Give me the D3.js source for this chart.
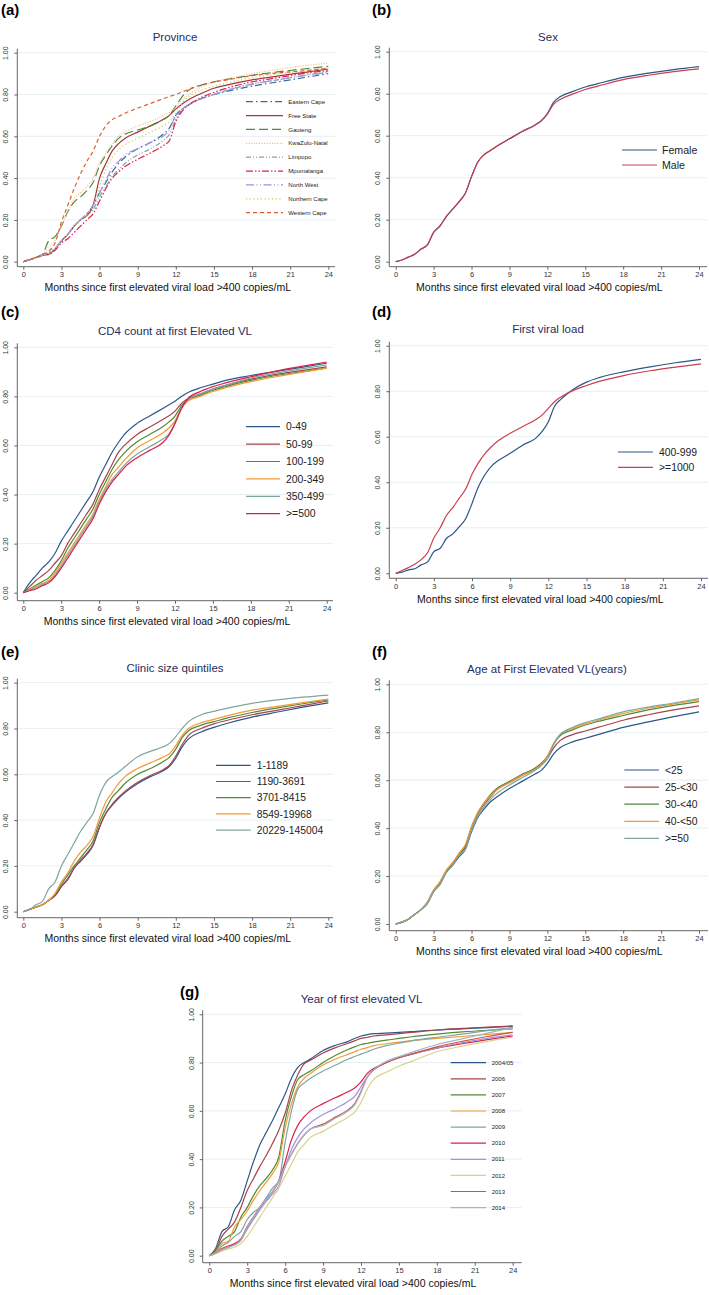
<!DOCTYPE html>
<html>
<head>
<meta charset="utf-8">
<script src="https://cdn.jsdelivr.net/npm/d3@7"></script>
<style>
  html, body { margin: 0; padding: 0; background: #fff; }
  svg { display: block; font-family: "Liberation Sans", Arial, sans-serif; }
</style>
</head>
<body>
<svg id="chart" width="709" height="1295"></svg>
<script>
// ---------------- DATA ----------------
const months = [0,0.5,1,1.5,2,2.5,3,3.5,4,4.5,5,5.5,6,6.5,7,7.5,8,9,10,11,11.5,12,12.5,13,14,15,16,18,20,22,24];
const xTicks = [0,3,6,9,12,15,18,21,24];
const yTicks = [0,0.2,0.4,0.6,0.8,1.0];
const xAxisTitle = "Months since first elevated viral load >400 copies/mL";

// (a) Province
const provinceNames = ["Eastern Cape","Free State","Gauteng","KwaZulu-Natal","Limpopo","Mpumalanga","North West","Northern Cape","Western Cape"];
const provEasternCape  = [0,0.01,0.02,0.03,0.04,0.06,0.1,0.13,0.17,0.2,0.23,0.27,0.33,0.38,0.43,0.47,0.5,0.54,0.57,0.61,0.64,0.7,0.73,0.75,0.78,0.8,0.815,0.84,0.86,0.88,0.9];
const provFreeState    = [0,0.01,0.02,0.03,0.035,0.06,0.1,0.13,0.17,0.2,0.22,0.27,0.4,0.47,0.53,0.565,0.59,0.62,0.65,0.68,0.7,0.73,0.755,0.775,0.805,0.83,0.845,0.87,0.888,0.905,0.922];
const provGauteng      = [0,0.01,0.02,0.035,0.1,0.12,0.17,0.24,0.285,0.31,0.34,0.38,0.46,0.51,0.555,0.59,0.61,0.63,0.65,0.68,0.7,0.745,0.79,0.82,0.845,0.86,0.872,0.892,0.908,0.922,0.935];
const provKwaZuluNatal = [0,0.01,0.02,0.035,0.07,0.1,0.17,0.24,0.3,0.33,0.36,0.4,0.47,0.52,0.56,0.6,0.62,0.65,0.67,0.7,0.715,0.74,0.775,0.8,0.835,0.86,0.875,0.9,0.92,0.937,0.95];
const provLimpopo      = [0,0.01,0.02,0.03,0.04,0.06,0.1,0.13,0.17,0.2,0.22,0.25,0.31,0.36,0.41,0.44,0.47,0.51,0.54,0.58,0.61,0.68,0.73,0.75,0.78,0.8,0.82,0.85,0.87,0.89,0.91];
const provMpumalanga   = [0,0.01,0.02,0.03,0.035,0.055,0.09,0.11,0.14,0.17,0.2,0.23,0.29,0.35,0.4,0.43,0.455,0.49,0.52,0.555,0.58,0.67,0.72,0.75,0.785,0.81,0.83,0.86,0.88,0.9,0.915];
const provNorthWest    = [0,0.01,0.02,0.03,0.045,0.065,0.1,0.13,0.17,0.2,0.23,0.27,0.33,0.39,0.45,0.48,0.51,0.54,0.57,0.6,0.63,0.7,0.73,0.75,0.78,0.8,0.82,0.85,0.87,0.89,0.905];
const provNorthernCape = [0,0.01,0.02,0.03,0.04,0.06,0.1,0.13,0.17,0.2,0.23,0.27,0.36,0.44,0.5,0.535,0.56,0.59,0.62,0.65,0.67,0.71,0.76,0.79,0.82,0.84,0.855,0.88,0.898,0.913,0.928];
const provWesternCape  = [0,0.01,0.02,0.035,0.05,0.09,0.19,0.27,0.35,0.42,0.48,0.53,0.6,0.65,0.68,0.695,0.71,0.735,0.757,0.78,0.79,0.8,0.812,0.825,0.845,0.86,0.87,0.89,0.903,0.913,0.925];

// (b) Sex
const sexNames = ["Female","Male"];
const sexFemale = [0,0.008,0.022,0.035,0.06,0.08,0.14,0.17,0.215,0.25,0.285,0.325,0.405,0.475,0.51,0.53,0.55,0.585,0.62,0.65,0.67,0.705,0.76,0.785,0.81,0.832,0.848,0.878,0.898,0.915,0.929];
const sexMale   = [0,0.008,0.022,0.035,0.06,0.08,0.14,0.17,0.215,0.25,0.285,0.325,0.405,0.475,0.51,0.53,0.55,0.585,0.62,0.65,0.67,0.703,0.75,0.772,0.798,0.82,0.836,0.867,0.888,0.905,0.918];

// (c) CD4 count
const cd4Names = ["0-49","50-99","100-199","200-349","350-499",">=500"];
const cd4_0_49    = [0,0.04,0.07,0.1,0.125,0.16,0.21,0.25,0.29,0.33,0.37,0.41,0.47,0.52,0.57,0.61,0.645,0.69,0.72,0.75,0.765,0.78,0.8,0.815,0.835,0.85,0.865,0.885,0.902,0.918,0.935];
const cd4_50_99   = [0,0.025,0.05,0.07,0.09,0.12,0.15,0.2,0.24,0.28,0.32,0.36,0.42,0.47,0.52,0.57,0.6,0.645,0.675,0.705,0.72,0.74,0.77,0.79,0.81,0.83,0.845,0.87,0.89,0.905,0.92];
const cd4_100_199 = [0,0.015,0.03,0.045,0.06,0.09,0.13,0.18,0.22,0.26,0.3,0.34,0.4,0.45,0.5,0.54,0.57,0.615,0.645,0.675,0.695,0.72,0.76,0.785,0.805,0.825,0.84,0.865,0.885,0.9,0.915];
const cd4_200_349 = [0,0.012,0.025,0.038,0.05,0.08,0.12,0.16,0.2,0.24,0.28,0.32,0.38,0.43,0.48,0.51,0.54,0.59,0.62,0.65,0.67,0.7,0.75,0.78,0.8,0.82,0.835,0.86,0.88,0.898,0.915];
const cd4_350_499 = [0,0.01,0.02,0.033,0.045,0.07,0.11,0.15,0.19,0.23,0.27,0.31,0.37,0.42,0.46,0.49,0.52,0.565,0.595,0.625,0.645,0.69,0.75,0.785,0.81,0.83,0.845,0.875,0.895,0.912,0.928];
const cd4_500plus = [0,0.008,0.015,0.028,0.04,0.065,0.1,0.14,0.18,0.22,0.26,0.3,0.36,0.41,0.45,0.48,0.51,0.55,0.58,0.61,0.64,0.69,0.75,0.79,0.82,0.84,0.855,0.88,0.903,0.922,0.94];

// (d) First viral load
const fvlNames = ["400-999",">=1000"];
const fvl400_999  = [0,0.005,0.015,0.02,0.037,0.05,0.095,0.11,0.154,0.173,0.205,0.24,0.307,0.38,0.432,0.469,0.493,0.527,0.564,0.593,0.622,0.666,0.735,0.765,0.81,0.84,0.86,0.886,0.907,0.925,0.94];
const fvl1000plus = [0,0.012,0.025,0.04,0.06,0.09,0.155,0.2,0.255,0.29,0.33,0.37,0.435,0.485,0.525,0.555,0.58,0.615,0.645,0.675,0.695,0.725,0.755,0.775,0.805,0.825,0.843,0.87,0.89,0.906,0.92];

// (e) Clinic size quintiles
const clinicNames = ["1-1189","1190-3691","3701-8415","8549-19968","20229-145004"];
const clinicQ1 = [0,0.01,0.02,0.03,0.05,0.07,0.11,0.14,0.19,0.22,0.25,0.29,0.37,0.43,0.465,0.495,0.52,0.56,0.59,0.615,0.635,0.67,0.72,0.755,0.785,0.805,0.822,0.85,0.872,0.893,0.912];
const clinicQ2 = [0,0.01,0.02,0.03,0.05,0.07,0.11,0.145,0.19,0.225,0.255,0.295,0.37,0.43,0.47,0.5,0.525,0.565,0.595,0.62,0.64,0.68,0.73,0.77,0.8,0.82,0.835,0.86,0.88,0.9,0.92];
const clinicQ3 = [0,0.01,0.02,0.03,0.05,0.075,0.12,0.16,0.2,0.235,0.27,0.31,0.39,0.45,0.5,0.53,0.56,0.6,0.625,0.655,0.675,0.71,0.76,0.79,0.815,0.83,0.845,0.87,0.89,0.908,0.925];
const clinicQ4 = [0,0.01,0.02,0.03,0.05,0.08,0.13,0.17,0.22,0.26,0.29,0.33,0.41,0.48,0.52,0.56,0.59,0.625,0.65,0.675,0.69,0.725,0.77,0.8,0.825,0.84,0.855,0.88,0.897,0.913,0.928];
const clinicQ5 = [0,0.01,0.03,0.045,0.1,0.13,0.2,0.25,0.3,0.35,0.39,0.43,0.51,0.565,0.59,0.61,0.633,0.677,0.7,0.72,0.735,0.765,0.8,0.83,0.86,0.875,0.888,0.91,0.925,0.937,0.946];

// (f) Age at first elevated VL
const ageNames = ["<25","25-<30","30-<40","40-<50",">=50"];
const ageUnder25 = [0,0.008,0.02,0.04,0.06,0.085,0.135,0.165,0.215,0.245,0.28,0.31,0.385,0.445,0.48,0.51,0.53,0.565,0.595,0.625,0.64,0.67,0.71,0.735,0.76,0.775,0.79,0.82,0.843,0.865,0.885];
const age25_30   = [0,0.008,0.02,0.04,0.06,0.088,0.14,0.17,0.22,0.25,0.29,0.32,0.4,0.46,0.5,0.53,0.56,0.59,0.62,0.645,0.665,0.69,0.735,0.765,0.79,0.805,0.82,0.85,0.873,0.893,0.91];
const age30_40   = [0,0.008,0.02,0.04,0.06,0.09,0.14,0.175,0.22,0.255,0.29,0.325,0.405,0.465,0.505,0.54,0.565,0.595,0.625,0.65,0.67,0.7,0.75,0.785,0.81,0.83,0.845,0.87,0.893,0.912,0.928];
const age40_50   = [0,0.008,0.02,0.04,0.06,0.09,0.14,0.175,0.225,0.255,0.295,0.33,0.405,0.465,0.505,0.535,0.56,0.59,0.62,0.645,0.665,0.7,0.755,0.79,0.815,0.835,0.85,0.878,0.9,0.918,0.935];
const age50plus  = [0,0.008,0.02,0.04,0.06,0.085,0.135,0.165,0.215,0.245,0.285,0.31,0.39,0.45,0.49,0.52,0.545,0.58,0.61,0.64,0.66,0.69,0.75,0.79,0.82,0.84,0.855,0.885,0.905,0.922,0.94];

// (g) Year of first elevated VL
const yearNames = ["2004/05","2006","2007","2008","2009","2010","2011","2012","2013","2014"];
const year2004_05 = [0,0.03,0.1,0.12,0.19,0.23,0.31,0.39,0.46,0.51,0.56,0.615,0.67,0.735,0.78,0.8,0.815,0.85,0.872,0.888,0.9,0.91,0.916,0.92,0.922,0.925,0.928,0.935,0.94,0.945,0.95];
const year2006 = [0,0.02,0.08,0.11,0.14,0.2,0.27,0.32,0.37,0.415,0.465,0.52,0.59,0.685,0.75,0.795,0.81,0.84,0.862,0.88,0.89,0.9,0.905,0.91,0.915,0.92,0.925,0.935,0.942,0.947,0.952];
const year2007 = [0,0.02,0.06,0.08,0.1,0.16,0.2,0.25,0.29,0.32,0.355,0.41,0.56,0.66,0.73,0.75,0.765,0.8,0.83,0.855,0.865,0.875,0.88,0.885,0.893,0.9,0.907,0.918,0.927,0.934,0.94];
const year2008 = [0,0.015,0.05,0.06,0.12,0.15,0.185,0.23,0.27,0.305,0.34,0.39,0.53,0.63,0.7,0.735,0.755,0.79,0.815,0.835,0.845,0.855,0.862,0.87,0.878,0.885,0.891,0.9,0.908,0.917,0.925];
const year2009 = [0,0.012,0.04,0.055,0.08,0.1,0.15,0.18,0.2,0.24,0.28,0.31,0.47,0.6,0.69,0.715,0.735,0.765,0.79,0.815,0.825,0.835,0.845,0.855,0.87,0.88,0.89,0.905,0.918,0.932,0.945];
const year2010 = [0,0.01,0.03,0.04,0.05,0.07,0.12,0.16,0.2,0.235,0.265,0.31,0.39,0.48,0.54,0.575,0.6,0.63,0.655,0.68,0.695,0.72,0.755,0.775,0.8,0.82,0.835,0.86,0.878,0.895,0.91];
const year2011 = [0,0.01,0.025,0.035,0.045,0.065,0.11,0.15,0.19,0.225,0.255,0.29,0.37,0.44,0.49,0.525,0.55,0.585,0.61,0.64,0.66,0.7,0.74,0.77,0.8,0.82,0.835,0.86,0.882,0.9,0.915];
const year2012 = [0,0.008,0.02,0.028,0.035,0.05,0.08,0.12,0.16,0.2,0.24,0.28,0.33,0.38,0.43,0.46,0.49,0.515,0.545,0.575,0.595,0.635,0.69,0.73,0.76,0.785,0.805,0.845,0.868,0.888,0.905];
const year2013 = [0,0.01,0.025,0.035,0.045,0.065,0.12,0.16,0.2,0.235,0.265,0.31,0.37,0.42,0.465,0.5,0.525,0.545,0.575,0.605,0.63,0.68,0.74,0.77,0.8,0.82,0.835,0.865,0.888,0.908,0.925];
const year2014 = [0,0.01,0.025,0.035,0.045,0.065,0.12,0.16,0.2,0.235,0.265,0.31,0.37,0.42,0.465,0.5,0.525,0.54,0.57,0.6,0.625,0.675,0.74,0.77,0.805,0.825,0.842,0.875,0.898,0.922,0.945];

// ---------------- STYLE ----------------
const provinceColors = ["#3b6aa0","#a8343f","#4f8a3a","#f2b487","#7fa6a0","#d92050","#9c90e0","#c9c96a","#d9602c"];
const provinceDashes = ["7,3,1.5,3","", "9,4","1,1.6","5,2,1,2,1,2","7,2,1.5,2,1.5,2","8,2.5,1,2.5,1,2.5","1.2,2.5","4,3"];
const twoColors = ["#2d5789","#c8404c"];
const sixColors = ["#2d5789","#a8434d","#4f8a3a","#f39a35","#7fa6a0","#d9204c"];
const fiveColors = ["#2d5789","#a8434d","#4f8a3a","#f39a35","#7fa6a0"];
const yearColors = ["#2d5789","#a8434d","#4f8a3a","#f39a35","#7fa6a0","#d9204c","#a390e0","#d8d38a","#c8583a","#a3b4c8"];

const panels = [
  { tag:"(a)", tagX:1, tagY:15, title:"Province", titleX:175, titleY:41,
    x0:23.3, x1:328.3, yBot:261.7, yTop:52.7, axisX:17.3, axisY:266.7, right:335,
    names:provinceNames, series:[provEasternCape,provFreeState,provGauteng,provKwaZuluNatal,provLimpopo,provMpumalanga,provNorthWest,provNorthernCape,provWesternCape],
    colors:provinceColors, dashes:provinceDashes,
    leg:{x:246, len:37, y:101.7, step:13.875, fs:6, gap:5.3} },
  { tag:"(b)", tagX:372, tagY:15, title:"Sex", titleX:548, titleY:41,
    x0:395.7, x1:699, yBot:261.7, yTop:51.7, axisX:389.3, axisY:266.7, right:707,
    names:sexNames, series:[sexFemale,sexMale], colors:twoColors,
    leg:{x:622, len:35, y:150, step:15, fs:10.6, gap:5} },
  { tag:"(c)", tagX:1, tagY:317, title:"CD4 count at first Elevated VL", titleX:175, titleY:335,
    x0:23.3, x1:326.7, yBot:592.7, yTop:347.3, axisX:17.3, axisY:600.7, right:333,
    names:cd4Names, series:[cd4_0_49,cd4_50_99,cd4_100_199,cd4_200_349,cd4_350_499,cd4_500plus], colors:sixColors,
    leg:{x:246, len:34, y:426.7, step:17.4, fs:10.4, gap:6} },
  { tag:"(d)", tagX:372, tagY:317, title:"First viral load", titleX:548, titleY:333,
    x0:395.7, x1:701, yBot:573.3, yTop:345.7, axisX:389.3, axisY:578.3, right:708,
    names:fvlNames, series:[fvl400_999,fvl1000plus], colors:twoColors,
    leg:{x:618, len:35, y:452, step:15.3, fs:10.4, gap:6} },
  { tag:"(e)", tagX:1, tagY:657, title:"Clinic size quintiles", titleX:175, titleY:672,
    x0:23.3, x1:328.3, yBot:911.7, yTop:682.7, axisX:17.3, axisY:917.7, right:333,
    names:clinicNames, series:[clinicQ1,clinicQ2,clinicQ3,clinicQ4,clinicQ5], colors:fiveColors,
    leg:{x:216, len:34.7, y:765.3, step:16.2, fs:10.3, gap:6} },
  { tag:"(f)", tagX:372, tagY:657, title:"Age at First Elevated VL(years)", titleX:547, titleY:673,
    x0:395.7, x1:699, yBot:924, yTop:684.3, axisX:389.3, axisY:930.7, right:708,
    names:ageNames, series:[ageUnder25,age25_30,age30_40,age40_50,age50plus], colors:fiveColors,
    leg:{x:624.3, len:34.7, y:770, step:17.1, fs:10.4, gap:6} },
  { tag:"(g)", tagX:180, tagY:997, title:"Year of first elevated VL", titleX:361.5, titleY:1003,
    x0:209.3, x1:512.7, yBot:1255.7, yTop:1014.3, axisX:202.7, axisY:1262.7, right:521.7,
    names:yearNames, series:[year2004_05,year2006,year2007,year2008,year2009,year2010,year2011,year2012,year2013,year2014], colors:yearColors,
    leg:{x:450.7, len:35.3, y:1062.7, step:16.1, fs:6, gap:5.7} }
];

// ---------------- DRAW ----------------
const svg = d3.select("#chart");
const axisColor = "#666";
const gridColor = "#e3edf1";
const titleColor = "#1f2d5c";
const fmt = d3.format(".2f");

panels.forEach(p => {
  const g = svg.append("g");
  const x = d3.scaleLinear().domain([0, 24]).range([p.x0, p.x1]);
  const y = d3.scaleLinear().domain([0, 1]).range([p.yBot, p.yTop]);

  g.append("text").attr("x", p.tagX).attr("y", p.tagY)
    .attr("font-size", 15).attr("font-weight", "bold").attr("fill", "#000").text(p.tag);
  g.append("text").attr("x", p.titleX).attr("y", p.titleY).attr("text-anchor", "middle")
    .attr("font-size", 11.5).attr("fill", titleColor).text(p.title);

  g.append("g").selectAll("line").data(yTicks.filter(d => d > 0)).join("line")
    .attr("x1", p.axisX).attr("x2", p.right)
    .attr("y1", d => y(d)).attr("y2", d => y(d))
    .attr("stroke", gridColor).attr("stroke-width", 0.9);

  const yAxis = g.append("g").attr("transform", `translate(${p.axisX},0)`)
    .call(d3.axisLeft(y).tickValues(yTicks).tickFormat(fmt).tickSize(3).tickSizeOuter(0));
  yAxis.select(".domain").attr("stroke", axisColor).attr("d", `M0,${p.yTop - 4}V${p.axisY}`);
  yAxis.selectAll(".tick line").attr("stroke", axisColor);
  yAxis.selectAll(".tick text")
    .attr("font-family", "Liberation Sans, Arial, sans-serif")
    .attr("font-size", 7).attr("fill", "#333")
    .attr("transform", "rotate(-90)")
    .attr("x", 0).attr("y", -9).attr("dy", 0)
    .attr("text-anchor", "middle");

  const xAxis = g.append("g").attr("transform", `translate(0,${p.axisY})`)
    .call(d3.axisBottom(x).tickValues(xTicks).tickFormat(d3.format("d")).tickSize(3).tickSizeOuter(0));
  xAxis.select(".domain").attr("stroke", axisColor).attr("d", `M${p.axisX},0H${p.right}`);
  xAxis.selectAll(".tick line").attr("stroke", axisColor);
  xAxis.selectAll(".tick text")
    .attr("font-family", "Liberation Sans, Arial, sans-serif")
    .attr("font-size", 7.5).attr("fill", "#333").attr("y", 5).attr("dy", "0.71em");

  g.append("text").attr("x", (p.x0 + p.x1) / 2 - 8).attr("y", p.axisY + 24.5)
    .attr("text-anchor", "middle").attr("font-size", 10.5).attr("fill", "#111").text(xAxisTitle);

  const line = d3.line().x((d, i) => x(months[i])).y(d => y(d)).curve(d3.curveMonotoneX);
  p.series.forEach((s, k) => {
    g.append("path").datum(s).attr("d", line)
      .attr("fill", "none").attr("stroke", p.colors[k]).attr("stroke-width", 1.2)
      .attr("stroke-dasharray", p.dashes ? (p.dashes[k] || null) : null);
  });

  const L = p.leg;
  p.names.forEach((n, k) => {
    const ly = L.y + k * L.step;
    g.append("line").attr("x1", L.x).attr("x2", L.x + L.len).attr("y1", ly).attr("y2", ly)
      .attr("stroke", p.colors[k]).attr("stroke-width", 1.2)
      .attr("stroke-dasharray", p.dashes ? (p.dashes[k] || null) : null);
    g.append("text").attr("x", L.x + L.len + L.gap).attr("y", ly).attr("dy", "0.35em")
      .attr("font-size", L.fs).attr("fill", "#222").text(n);
  });
});
</script>
</body>
</html>
